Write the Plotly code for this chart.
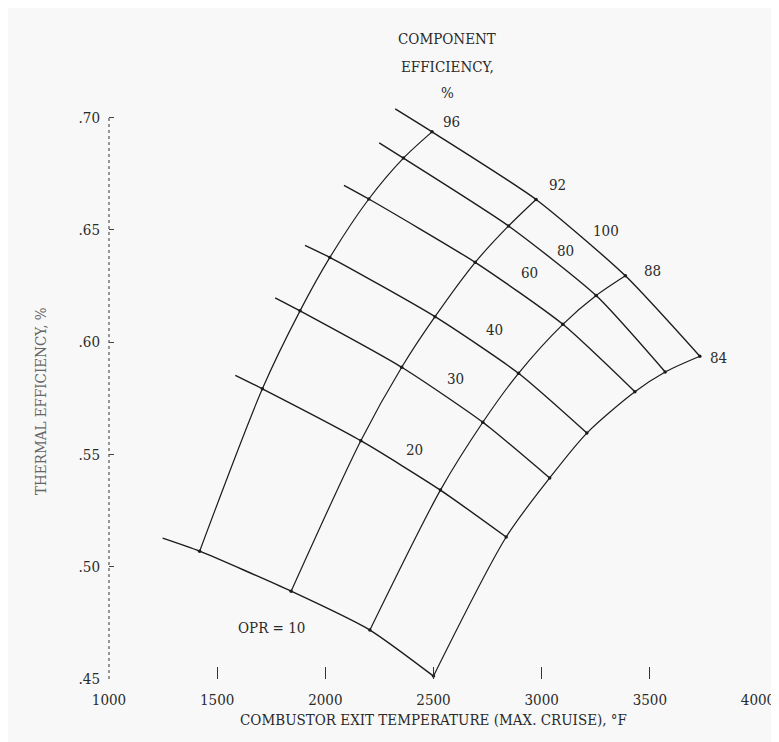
import plotly.graph_objects as go

# ---------------- data ----------------
opr_values = [10, 20, 30, 40, 60, 80, 100]          # overall pressure ratio lines
component_eff = [96, 92, 88, 84]                     # component efficiency lines, %

# combustor exit temperature (deg F) at each grid node: rows = OPR, cols = component eff
node_temp = [
    [1419, 1842, 2206, 2500],
    [1709, 2164, 2532, 2836],
    [1883, 2353, 2728, 3037],
    [2021, 2507, 2893, 3209],
    [2201, 2693, 3098, 3431],
    [2361, 2847, 3252, 3571],
    [2493, 2974, 3387, 3731],
]
# thermal efficiency at each grid node
node_eff = [
    [0.5069, 0.4891, 0.4718, 0.4513],
    [0.5792, 0.5561, 0.5341, 0.5132],
    [0.6139, 0.5888, 0.5643, 0.5395],
    [0.6377, 0.6113, 0.5861, 0.5595],
    [0.6637, 0.6355, 0.6079, 0.5779],
    [0.6819, 0.6517, 0.6207, 0.5867],
    [0.6936, 0.6635, 0.6295, 0.5937],
]
# left-hand start of each OPR line (short lead-in before the 96 % line)
lead_temp = [1248, 1584, 1768, 1906, 2086, 2249, 2323]
lead_eff = [0.5127, 0.5852, 0.6197, 0.6431, 0.6698, 0.6887, 0.7038]

x_ticks = [1000, 1500, 2000, 2500, 3000, 3500, 4000]
y_ticks = [0.45, 0.50, 0.55, 0.60, 0.65, 0.70]
y_ticktext = [".45", ".50", ".55", ".60", ".65", ".70"]

# label placement (temperature, efficiency)
opr_label_text = ["OPR = 10", "20", "30", "40", "60", "80", "100"]
opr_label_x = [1750, 2413, 2601, 2781, 2942, 3112, 3296]
opr_label_y = [0.4727, 0.5519, 0.5835, 0.6052, 0.6306, 0.6404, 0.6493]
eff_label_x = [2583, 3075, 3512, 3816]
eff_label_y = [0.6982, 0.6698, 0.6315, 0.5928]

# ---------------- figure ----------------
FONT = "DejaVu Serif Condensed, Liberation Serif, serif"
INK = "#1c1c1c"
TXT = "#2a2a2a"

fig = go.Figure()

# OPR lines (upper-left to lower-right)
for i, p in enumerate(opr_values):
    xs = [lead_temp[i]] + node_temp[i]
    ys = [lead_eff[i]] + node_eff[i]
    fig.add_trace(go.Scatter(x=xs, y=ys, mode="lines",
                             line=dict(color=INK, width=1.4, shape="spline", smoothing=0.6),
                             hoverinfo="skip", showlegend=False))

# component efficiency lines (lower-left to upper-right)
for j, e in enumerate(component_eff):
    xs = [row[j] for row in node_temp]
    ys = [row[j] for row in node_eff]
    fig.add_trace(go.Scatter(x=xs, y=ys, mode="lines",
                             line=dict(color=INK, width=1.2, shape="spline", smoothing=0.8),
                             hoverinfo="skip", showlegend=False))

# grid nodes
fig.add_trace(go.Scatter(x=[v for row in node_temp for v in row],
                         y=[v for row in node_eff for v in row],
                         mode="markers", marker=dict(color=INK, size=3.5),
                         hoverinfo="skip", showlegend=False))

# labels on the carpet
for t, x, y in zip(opr_label_text, opr_label_x, opr_label_y):
    fig.add_annotation(x=x, y=y, text=t, showarrow=False,
                       font=dict(family=FONT, size=15, color=TXT))
for e, x, y in zip(component_eff, eff_label_x, eff_label_y):
    fig.add_annotation(x=x, y=y, text=str(e), showarrow=False,
                       font=dict(family=FONT, size=15, color=TXT))

# header for the efficiency family
for txt, yy in zip(["COMPONENT", "EFFICIENCY,", "%"], [1.115, 1.067, 1.022]):
    fig.add_annotation(xref="paper", yref="paper", x=0.521, y=yy, text=txt,
                       showarrow=False, font=dict(family=FONT, size=15, color=TXT))

# y-axis title
fig.add_annotation(xref="paper", yref="paper", x=-0.121, y=0.477,
                   text="THERMAL EFFICIENCY, %", textangle=-90, showarrow=False,
                   font=dict(family=FONT, size=15, color="#666666"))

# broken left axis line
fig.add_shape(type="line", xref="paper", yref="y", x0=0, x1=0,
              y0=y_ticks[0], y1=y_ticks[-1],
              line=dict(color="#555555", width=1.2, dash="dot"))

fig.update_layout(
    width=779, height=742,
    margin=dict(l=101, r=26, t=87, b=71),
    paper_bgcolor="#f8f8f8", plot_bgcolor="#f8f8f8",
    font=dict(family=FONT, size=15, color=TXT),
    showlegend=False,
)
fig.update_xaxes(range=[1000, 4000], tickvals=x_ticks,
                 ticktext=[str(v) for v in x_ticks],
                 ticks="inside", ticklen=12, tickwidth=1.3, tickcolor="#333333",
                 ticklabelstandoff=10,
                 showgrid=False, zeroline=False, showline=False,
                 title=dict(text="COMBUSTOR EXIT TEMPERATURE (MAX. CRUISE), °F",
                            font=dict(family=FONT, size=15, color=TXT), standoff=6))
fig.update_yaxes(range=[0.45, 0.71], tickvals=y_ticks, ticktext=y_ticktext,
                 ticks="inside", ticklen=5, tickwidth=1.2, tickcolor="#444444",
                 ticklabelstandoff=8,
                 showgrid=False, zeroline=False, showline=False)

fig.write_html("out.html")
